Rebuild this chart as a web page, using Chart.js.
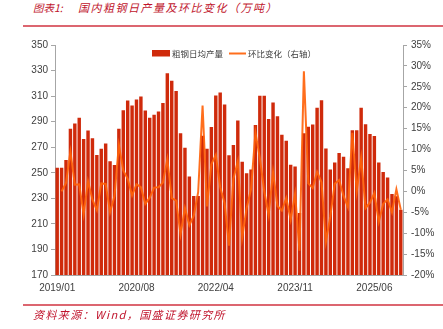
<!DOCTYPE html>
<html>
<head>
<meta charset="utf-8">
<script src="https://cdn.jsdelivr.net/npm/chart.js@4.4.1/dist/chart.umd.min.js"></script>
<style>
    html, body { margin: 0; padding: 0; background: #fff; }
    #wrap { position: relative; width: 443px; height: 329px; overflow: hidden; }
    #chart { position: absolute; left: 0; top: 0; }
    .cap { position: absolute; font-family: "Noto Sans CJK SC", sans-serif; font-style: italic; color: #c0142c; white-space: nowrap; }
    .rule { position: absolute; left: 23px; width: 420px; height: 1.5px; background: #dc6670; }
</style>
</head>
<body>
<div id="wrap">
    <div class="cap" style="left:33px; top:0px; font-size:10.5px;">图表1:</div>
    <div class="cap" style="left:78px; top:-1px; font-size:11px; letter-spacing:1.5px;">国内粗钢日产量及环比变化（万吨）</div>
    <div class="rule" style="top:25px;"></div>
    <canvas id="chart" width="443" height="329"></canvas>
    <div class="rule" style="top:304px;"></div>
    <div class="cap" style="left:33px; top:306px; font-size:11px; letter-spacing:1.4px;">资料来源：Wind，国盛证券研究所</div>
</div>
<script>
// 月份（1月数据多与2月合并）
var months = [
    '2019/01', '2019/02', '2019/03', '2019/04', '2019/05', '2019/06', '2019/07', '2019/08', '2019/09', '2019/10', '2019/11', '2019/12',
    '2020/02', '2020/03', '2020/04', '2020/05', '2020/06', '2020/07', '2020/08', '2020/09', '2020/10', '2020/11', '2020/12',
    '2021/02', '2021/03', '2021/04', '2021/05', '2021/06', '2021/07', '2021/08', '2021/09', '2021/10', '2021/11', '2021/12',
    '2022/02', '2022/03', '2022/04', '2022/05', '2022/06', '2022/07', '2022/08', '2022/09', '2022/10', '2022/11', '2022/12',
    '2023/02', '2023/03', '2023/04', '2023/05', '2023/06', '2023/07', '2023/08', '2023/09', '2023/10', '2023/11', '2023/12',
    '2024/02', '2024/03', '2024/04', '2024/05', '2024/06', '2024/07', '2024/08', '2024/09', '2024/10', '2024/11', '2024/12',
    '2025/01', '2025/02', '2025/03', '2025/04', '2025/05', '2025/06', '2025/07', '2025/08', '2025/09', '2025/10', '2025/11', '2025/12'
];

// 粗钢日均产量（万吨）
var dailyOutput = [
    254, 254, 260, 284.5, 288.5, 293, 276.5, 283, 277, 264,
    268.8, 273, 259, 256, 284.5, 299, 306.5, 302.6, 307.3, 309.7,
    298.7, 293, 295.5, 298, 304.7, 327.8, 322, 314, 281, 269.6,
    247, 231.8, 231.8, 279, 268.8, 285.8, 310.5, 312.8, 303.4, 263.8,
    271.7, 291, 258.6, 249.7, 252.5, 287.4, 310.2, 310.2, 292, 305,
    294.2, 279.8, 275, 256.2, 254.9, 218.5, 281, 286, 287.7, 300.8,
    306.8, 269, 252.5, 258, 265.4, 262.5, 253.6, 283.2, 283.2, 300.8,
    288, 280.3, 278.8, 258, 250.7, 246.3, 233.4, 231.6, 221
];

// 环比变化（%）
var momChange = [
    null, 0, 2, 9.5, 1.6, 1.7, -5.5, 2.4, -2, -4.5,
    1.9, 1.8, -5, -1.1, 11.1, 5, 3, -1, 1.7, 1,
    -3, -1.5, 0.9, 1, 2.1, 7.7, -1.6, -2.2, -10.3, -4,
    -8.1, -5.8, -0.2, 20.5, -3.6, 6.5, 8.7, 1, -2.8, -13,
    3, 7.2, -11, -4, 0.5, 14, 8, 0, -5.7, 4.6,
    -3.5, -4.6, -1.6, -6.8, -0.6, -14.2, 28.7, 1.9, 0.8, 4.7,
    2.2, -12, -6, 1.8, 2.7, -1.1, -3.8, 14, 0, 8,
    -4, -2.7, -0.4, -7.3, -3, -1.9, -5, 0.5, -4.4
];

var tickEvery = 18;
var barColor = '#cf2a0b';
var lineColor = 'rgba(255, 98, 10, 0.92)';
var tickFont = { family: 'Liberation Sans', size: 10 };

// 图例画在绘图区内
var legendInside = {
    id: 'legendInside',
    afterDraw: function (chart) {
        var ctx = chart.ctx;
        ctx.save();
        ctx.fillStyle = barColor;
        ctx.fillRect(152, 50, 18, 6.5);
        ctx.strokeStyle = lineColor;
        ctx.lineWidth = 2;
        ctx.beginPath();
        ctx.moveTo(229, 53.5);
        ctx.lineTo(246, 53.5);
        ctx.stroke();
        ctx.font = '8.5px "Noto Sans CJK SC"';
        ctx.fillStyle = '#404040';
        ctx.textBaseline = 'middle';
        ctx.fillText('粗钢日均产量', 172, 53.5);
        ctx.fillText('环比变化（右轴）', 248, 53.5);
        ctx.restore();
    }
};

new Chart(document.getElementById('chart'), {
    data: {
        labels: months,
        datasets: [
            {
                type: 'line',
                label: '环比变化（右轴）',
                data: momChange,
                yAxisID: 'yRight',
                borderColor: lineColor,
                borderWidth: 2,
                pointRadius: 0,
                tension: 0,
                order: 0
            },
            {
                type: 'bar',
                label: '粗钢日均产量',
                data: dailyOutput,
                yAxisID: 'yLeft',
                backgroundColor: barColor,
                categoryPercentage: 1,
                barPercentage: 0.78,
                order: 1
            }
        ]
    },
    options: {
        responsive: false,
        animation: false,
        layout: { padding: { top: 45, bottom: 30, left: 0, right: 0 } },
        plugins: { legend: { display: false }, tooltip: { enabled: false } },
        scales: {
            x: {
                grid: { display: false, drawTicks: false },
                border: { color: '#a6a6a6' },
                ticks: {
                    autoSkip: false,
                    maxRotation: 0,
                    padding: 7,
                    color: '#404040',
                    font: tickFont,
                    callback: function (v, i) { return i % tickEvery === 0 ? months[i] : ''; }
                },
                afterFit: function (s) { s.height = 24; }
            },
            yLeft: {
                position: 'left',
                min: 170,
                max: 350,
                ticks: { stepSize: 20, padding: 3, color: '#404040', font: tickFont },
                grid: { drawOnChartArea: false, tickLength: 4, color: '#a6a6a6' },
                border: { color: '#a6a6a6' },
                afterFit: function (s) { s.width = 55; }
            },
            yRight: {
                position: 'right',
                min: -20,
                max: 35,
                ticks: {
                    stepSize: 5, padding: 4, color: '#404040', font: tickFont,
                    callback: function (v) { return v + '%'; }
                },
                grid: { drawOnChartArea: false, tickLength: 4, color: '#a6a6a6' },
                border: { color: '#a6a6a6' },
                afterFit: function (s) { s.width = 40; }
            }
        }
    },
    plugins: [legendInside]
});
</script>
</body>
</html>
